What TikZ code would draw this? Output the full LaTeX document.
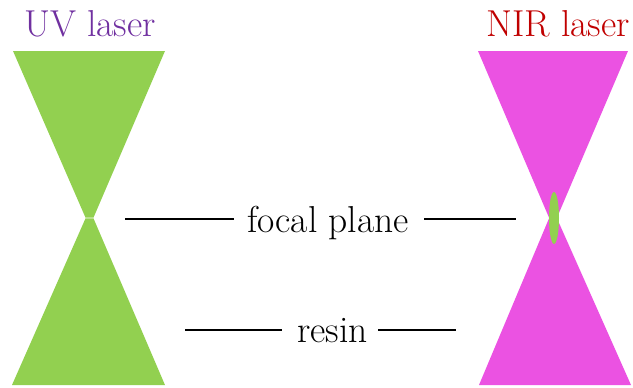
\documentclass[tikz,border=0pt]{standalone}
\usetikzlibrary{shapes.geometric}
\definecolor{uvgreen}{HTML}{92D050}
\definecolor{nirpink}{HTML}{EB52E2}
\definecolor{uvpurple}{HTML}{7030A0}
\definecolor{nirred}{HTML}{C00000}
\begin{document}
\begin{tikzpicture}[x=1pt,y=-1pt,
  lbl/.style={inner sep=0pt,anchor=base,font=\rmfamily\fontsize{37.5}{42}\selectfont},
  guide/.style={draw=black,line width=1.6pt}]
\useasboundingbox (0,0) rectangle (633,388);
% UV beam: two cones meeting at the focus
\fill[uvgreen] (13,51) -- (165,51) -- (93.5,217.6) -- (85.5,217.6) -- cycle;
\fill[uvgreen] (85.5,218.4) -- (93.5,218.4) -- (165,385) -- (12,385) -- cycle;
% NIR beam
\fill[nirpink] (478,51) -- (628,51) -- (557,217.6) -- (549,217.6) -- cycle;
\fill[nirpink] (549,218.4) -- (557,218.4) -- (631,385) -- (479,385) -- cycle;
% cured voxel at the NIR focus
\node[ellipse,fill=uvgreen,minimum width=10pt,minimum height=52pt,inner sep=0pt] (voxel) at (554,218) {};
% titles
\node[lbl,text=uvpurple] (uv) at (90,36) {UV laser};
\node[lbl,text=nirred] (nir) at (558,36) {NIR laser};
% labels with guide lines
\node[lbl] (fp) at (328,232) {focal plane};
\node[lbl] (rs) at (332.5,342) {resin};
\coordinate (fpA) at (125,219);
\coordinate (fpB) at (234,219);
\coordinate (fpC) at (424,219);
\coordinate (fpD) at (516,219);
\coordinate (rsA) at (185,330);
\coordinate (rsB) at (282,330);
\coordinate (rsC) at (378,330);
\coordinate (rsD) at (456,330);
\draw[guide] (fpA) -- (fpB);
\draw[guide] (fpC) -- (fpD);
\draw[guide] (rsA) -- (rsB);
\draw[guide] (rsC) -- (rsD);
\end{tikzpicture}
\end{document}
